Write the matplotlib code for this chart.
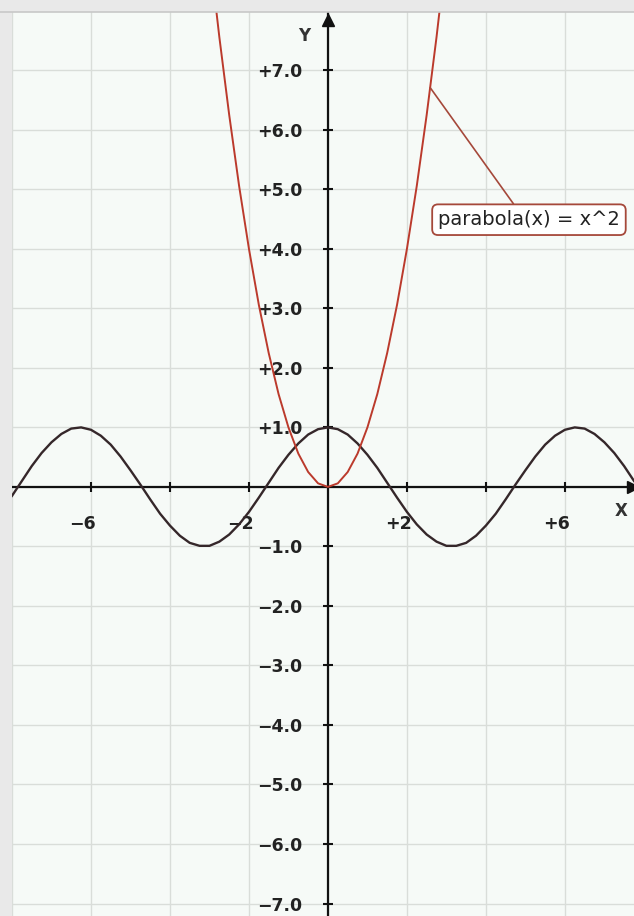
import matplotlib.pyplot as plt

# values
cos_x = [-8.0, -7.75, -7.5, -7.25, -7.0, -6.75, -6.5, -6.25, -6.0, -5.75, -5.5, -5.25,
         -5.0, -4.75, -4.5, -4.25, -4.0, -3.75, -3.5, -3.25, -3.0, -2.75, -2.5, -2.25,
         -2.0, -1.75, -1.5, -1.25, -1.0, -0.75, -0.5, -0.25, 0.0, 0.25, 0.5, 0.75,
         1.0, 1.25, 1.5, 1.75, 2.0, 2.25, 2.5, 2.75, 3.0, 3.25, 3.5, 3.75,
         4.0, 4.25, 4.5, 4.75, 5.0, 5.25, 5.5, 5.75, 6.0, 6.25, 6.5, 6.75,
         7.0, 7.25, 7.5, 7.75]
cos_y = [-0.15, 0.10, 0.35, 0.57, 0.75, 0.89, 0.98, 1.00, 0.96, 0.86, 0.71, 0.51,
         0.28, 0.04, -0.21, -0.45, -0.65, -0.82, -0.94, -0.99, -0.99, -0.92, -0.80, -0.63,
         -0.42, -0.18, 0.07, 0.32, 0.54, 0.73, 0.88, 0.97, 1.00, 0.97, 0.88, 0.73,
         0.54, 0.32, 0.07, -0.18, -0.42, -0.63, -0.80, -0.92, -0.99, -0.99, -0.94, -0.82,
         -0.65, -0.45, -0.21, 0.04, 0.28, 0.51, 0.71, 0.86, 0.96, 1.00, 0.98, 0.89,
         0.75, 0.57, 0.35, 0.10]

par_x = [-3.0, -2.75, -2.5, -2.25, -2.0, -1.75, -1.5, -1.25, -1.0, -0.75, -0.5, -0.25, 0.0,
         0.25, 0.5, 0.75, 1.0, 1.25, 1.5, 1.75, 2.0, 2.25, 2.5, 2.75, 3.0]
par_y = [9.0, 7.56, 6.25, 5.06, 4.0, 3.06, 2.25, 1.56, 1.0, 0.56, 0.25, 0.06, 0.0,
         0.06, 0.25, 0.56, 1.0, 1.56, 2.25, 3.06, 4.0, 5.06, 6.25, 7.56, 9.0]

x_ticks = [-6, -4, -2, 2, 4, 6]
x_labels = ['\u22126', '', '\u22122', '+2', '', '+6']
y_ticks = [7, 6, 5, 4, 3, 2, 1, -1, -2, -3, -4, -5, -6, -7]
y_labels = ['+7.0', '+6.0', '+5.0', '+4.0', '+3.0', '+2.0', '+1.0',
            '\u22121.0', '\u22122.0', '\u22123.0', '\u22124.0', '\u22125.0', '\u22126.0', '\u22127.0']
grid_x = [-8, -6, -4, -2, 0, 2, 4, 6]
grid_y = [-7, -6, -5, -4, -3, -2, -1, 0, 1, 2, 3, 4, 5, 6, 7]

label_text = 'parabola(x) = x^2'
label_at = 2.59

fig = plt.figure(figsize=(6.34, 9.16), dpi=100, facecolor='#e9e9e9')
ax = fig.add_axes([12 / 634, 0, 622 / 634, 904 / 916])
ax.set_facecolor('#f6faf7')
ax.set_xlim(-8.0, 7.75)
ax.set_ylim(-7.21, 7.98)

ax.set_xticks(grid_x)
ax.set_yticks(grid_y)
ax.tick_params(length=0, labelbottom=False, labelleft=False)
ax.grid(True, color='#d9ddd9', lw=1.0)
for s in ax.spines.values():
    s.set_visible(False)
fig.add_artist(plt.Line2D([0, 1], [1 - 12 / 916, 1 - 12 / 916], color='#c8c8c8', lw=1.2))

# axes through the origin
ax.axhline(0, color='#111111', lw=1.6, zorder=3)
ax.axvline(0, color='#111111', lw=1.6, zorder=3)
ax.plot(0, 7.85, marker='^', ms=9, color='#111111', zorder=4, clip_on=False)
ax.plot(7.72, 0, marker='>', ms=9, color='#111111', zorder=4)
ax.plot(x_ticks, [0] * len(x_ticks), ls='none', marker='|', ms=7, mew=1.5, color='#111111', zorder=4)
ax.plot([0] * len(y_ticks), y_ticks, ls='none', marker='_', ms=7, mew=1.5, color='#111111', zorder=4)

for xv, lab in zip(x_ticks, x_labels):
    ax.annotate(lab, (xv, 0), xytext=(3.6, -30), textcoords='offset points',
                ha='right', va='baseline', fontsize=12.5, fontweight='bold', color='#222222')
for yv, lab in zip(y_ticks, y_labels):
    ax.annotate(lab, (0, yv), xytext=(-18.5, 0), textcoords='offset points',
                ha='right', va='center_baseline', fontsize=12.5, fontweight='bold', color='#222222')

ax.annotate('Y', (0, 7.98), xytext=(-17, -17), textcoords='offset points',
            ha='center', va='center', fontsize=12, fontweight='bold', color='#333333')
ax.annotate('X', (7.75, 0), xytext=(-9, -17), textcoords='offset points',
            ha='center', va='center', fontsize=12, fontweight='bold', color='#333333')

# curves
ax.plot(cos_x, cos_y, color='#35272a', lw=1.7, zorder=5)
ax.plot(par_x, par_y, color='#bb3a2c', lw=1.4, zorder=6)

ax.annotate(label_text, xy=(label_at, label_at ** 2), xytext=(5.09, 4.49),
            ha='center', va='center', fontsize=14, color='#222222', zorder=7,
            bbox=dict(boxstyle='round,pad=0.3', fc='white', ec='#a5483a', lw=1.3),
            arrowprops=dict(arrowstyle='-', color='#a5483a', lw=1.2,
                            relpos=(0.44, 1.0), shrinkA=0, shrinkB=0))

fig.savefig('out.png', dpi=100, facecolor=fig.get_facecolor())
